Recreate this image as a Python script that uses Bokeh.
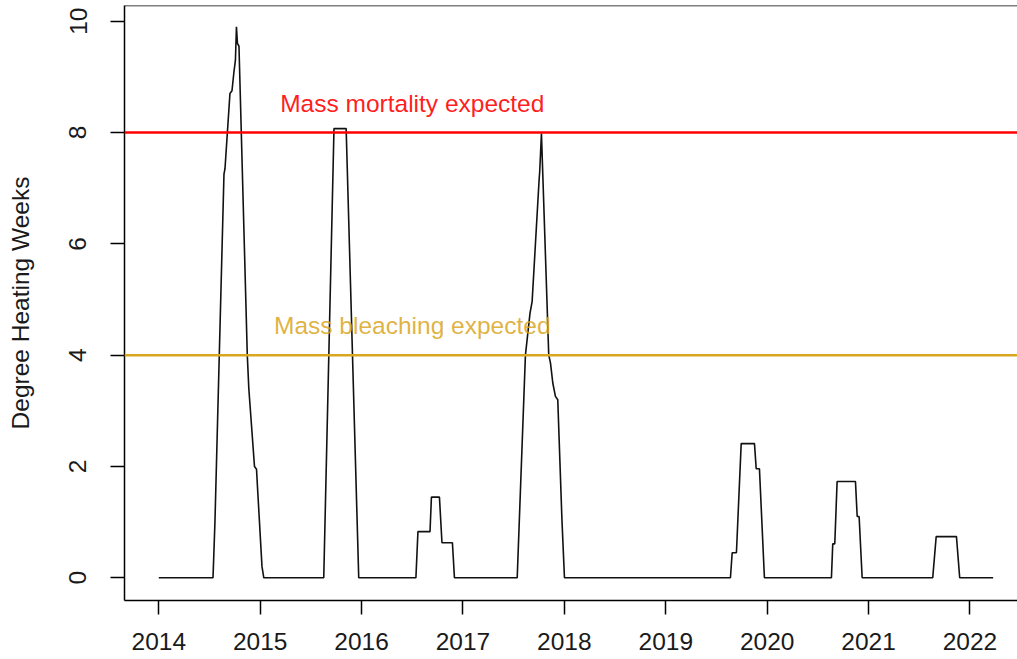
from bokeh.plotting import figure
from bokeh.models import Range1d, Span, FixedTicker
from bokeh.core.properties import value
from bokeh.embed import file_html
from bokeh.resources import INLINE

# Degree Heating Weeks series (vertices of the weekly line, decimal years)
years = [
    2014.000, 2014.535, 2014.554, 2014.643, 2014.653, 2014.702, 2014.722, 2014.742,
    2014.756, 2014.766, 2014.776, 2014.791, 2014.873, 2014.888, 2014.944, 2014.964,
    2014.973, 2015.018, 2015.036,
    2015.627, 2015.728, 2015.848, 2015.972,
    2016.536, 2016.556, 2016.675, 2016.689, 2016.768, 2016.793, 2016.896, 2016.916,
    2017.535, 2017.616, 2017.661, 2017.682, 2017.751, 2017.757, 2017.774, 2017.846,
    2017.863, 2017.886, 2017.912, 2017.935, 2017.976, 2018.001,
    2019.638, 2019.655, 2019.697, 2019.744, 2019.875, 2019.892, 2019.924, 2019.973,
    2020.634, 2020.647, 2020.667, 2020.690, 2020.871, 2020.888, 2020.907, 2020.937,
    2021.633, 2021.667, 2021.867, 2021.899, 2022.229,
]
dhw = [
    0.00, 0.00, 1.00, 7.25, 7.35, 8.70, 8.75, 9.10,
    9.30, 9.90, 9.60, 9.55, 4.00, 3.40, 2.00, 1.95,
    1.65, 0.20, 0.00,
    0.00, 8.07, 8.07, 0.00,
    0.00, 0.83, 0.83, 1.45, 1.45, 0.63, 0.63, 0.00,
    0.00, 4.00, 4.75, 4.96, 7.15, 7.30, 7.98, 4.00,
    3.86, 3.50, 3.26, 3.20, 1.05, 0.00,
    0.00, 0.45, 0.45, 2.41, 2.41, 1.96, 1.96, 0.00,
    0.00, 0.61, 0.61, 1.73, 1.73, 1.10, 1.10, 0.00,
    0.00, 0.74, 0.74, 0.00, 0.00,
]

thresholds = [8, 4]
threshold_labels = ["Mass mortality expected", "Mass bleaching expected"]
threshold_colors = ["#ff0000", "#daa520"]
label_x = [2016.5, 2016.5]
label_y = [8.5, 4.5]

x_ticks = [2014, 2015, 2016, 2017, 2018, 2019, 2020, 2021, 2022]
y_ticks = [0, 2, 4, 6, 8, 10]

FONT = "Liberation Sans"
FS = "24.5px"

Y_TOP = 10.282
p = figure(width=1017, height=659, output_backend="svg", toolbar_location=None,
           x_range=Range1d(2013.662, 2022.469), y_range=Range1d(-0.408, Y_TOP),
           min_border_left=124, min_border_right=0, min_border_top=5,
           min_border_bottom=59)
p.outline_line_color = None
p.grid.grid_line_color = None
p.background_fill_color = "white"
p.border_fill_color = "white"

p.xaxis.ticker = FixedTicker(ticks=x_ticks)
p.yaxis.ticker = FixedTicker(ticks=y_ticks)
for ax in (p.xaxis, p.yaxis):
    ax.major_tick_out = 14
    ax.major_tick_in = 0
    ax.minor_tick_out = 0
    ax.minor_tick_in = 0
    ax.axis_line_color = "black"
    ax.axis_line_width = 1.5
    ax.major_tick_line_color = "black"
    ax.major_tick_line_width = 1.5
    ax.major_label_text_font = FONT
    ax.major_label_text_font_size = FS
    ax.major_label_text_color = "#1a1a1a"

p.xaxis.major_label_standoff = 18
p.yaxis.major_label_orientation = "vertical"
p.yaxis.major_label_standoff = 24
p.yaxis.axis_label = "Degree Heating Weeks"
p.yaxis.axis_label_text_font = FONT
p.yaxis.axis_label_text_font_size = FS
p.yaxis.axis_label_text_font_style = "normal"
p.yaxis.axis_label_text_color = "#1a1a1a"
p.yaxis.axis_label_standoff = 33

# top border of the box
p.add_layout(Span(location=Y_TOP, dimension="width", line_color="black", line_width=1.5))

p.line(years, dhw, line_color="#111111", line_width=1.6)

for t, c in zip(thresholds, threshold_colors):
    p.add_layout(Span(location=t, dimension="width", line_color=c, line_width=2.5))

p.text(x=label_x[:1], y=label_y[:1], text=threshold_labels[:1],
       text_font=value(FONT), text_font_size=FS, text_color=threshold_colors[0],
       text_alpha=0.9, text_align="center", text_baseline="alphabetic", y_offset=-1.5)
p.text(x=label_x[1:], y=label_y[1:], text=threshold_labels[1:],
       text_font=value(FONT), text_font_size=FS, text_color=threshold_colors[1],
       text_alpha=0.85, text_align="center", text_baseline="alphabetic", y_offset=-1.5)

open("out.html", "w").write(file_html(p, INLINE))
